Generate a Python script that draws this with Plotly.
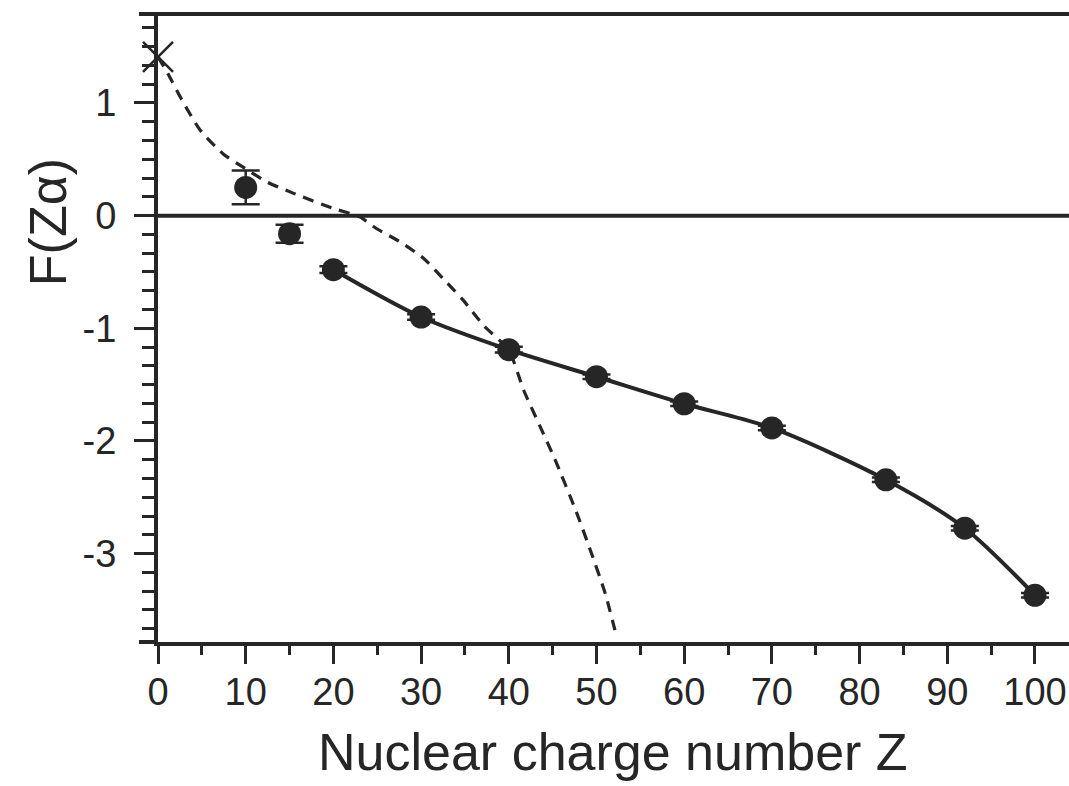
import plotly.graph_objects as go

# Measured points with error bars
z_pts = [10, 15, 20, 30, 40, 50, 60, 70, 83, 92, 100]
f_pts = [0.25, -0.16, -0.48, -0.90, -1.19, -1.43, -1.67, -1.885, -2.345, -2.775, -3.37]
f_err = [0.15, 0.08, 0.03, 0.025, 0.025, 0.02, 0.02, 0.02, 0.02, 0.02, 0.02]

# Solid line (fit through points Z>=20)
z_line = [20, 30, 40, 50, 60, 70, 83, 92, 100]
f_line = [-0.48, -0.90, -1.19, -1.43, -1.67, -1.885, -2.345, -2.775, -3.37]

# Dashed curve (expansion)
z_dash = [0, 1.2, 2.7, 4.8, 7.4, 9.7, 12.4, 15.4, 20, 23, 24.9, 27.6, 30.3, 32.5, 34.8, 37.1, 40, 41.7, 43.5, 45.3, 47.7, 49.3, 51, 52.3]
f_dash = [1.41, 1.25, 1.03, 0.76, 0.55, 0.43, 0.30, 0.20, 0.064, -0.01, -0.114, -0.233, -0.38, -0.558, -0.75, -0.972, -1.195, -1.55, -1.86, -2.17, -2.63, -2.97, -3.355, -3.74]

# Cross at Z=0
z_x = [0]
f_x = [1.41]

xtick_vals = [0, 10, 20, 30, 40, 50, 60, 70, 80, 90, 100]
xtick_text = ["0", "10", "20", "30", "40", "50", "60", "70", "80", "90", "100"]
ytick_vals = [1, 0, -1, -2, -3]
ytick_text = ["1", "0", "-1", "-2", "-3"]

C = "#262626"
FONT = "Liberation Sans, Arial, sans-serif"

fig = go.Figure()

fig.add_trace(go.Scatter(x=z_dash, y=f_dash, mode="lines",
                         line=dict(color=C, width=3.2, dash="11px,8px",
                                   shape="spline", smoothing=0.6),
                         cliponaxis=False, showlegend=False))
fig.add_trace(go.Scatter(x=z_line, y=f_line, mode="lines",
                         line=dict(color=C, width=4, shape="spline", smoothing=0.8),
                         showlegend=False))
fig.add_trace(go.Scatter(x=z_pts, y=f_pts, mode="markers",
                         marker=dict(symbol="circle", size=23, color=C),
                         error_y=dict(type="data", array=f_err, visible=True,
                                      color=C, thickness=2.5, width=14),
                         cliponaxis=False, showlegend=False))
fig.add_trace(go.Scatter(x=z_x, y=f_x, mode="markers",
                         marker=dict(symbol="x-thin-open", size=30, color=C,
                                     line=dict(color=C, width=2.5)),
                         cliponaxis=False, showlegend=False))

PW = 1069 - 158
ext = 19 / PW

fig.update_layout(
    width=1069, height=786,
    margin=dict(l=158, r=0, t=14, b=144),
    paper_bgcolor="white", plot_bgcolor="white",
    font=dict(family=FONT, color=C, size=38),
    xaxis=dict(range=[0, 103.88], showgrid=False, zeroline=False,
               showline=True, linecolor=C, linewidth=4,
               tickmode="array", tickvals=xtick_vals, ticktext=xtick_text,
               ticks="outside", ticklen=18, tickwidth=3, tickcolor=C,
               ticklabelstandoff=-5,
               minor=dict(dtick=5, tick0=0, ticks="outside", ticklen=9,
                          tickwidth=3, tickcolor=C, showgrid=False),
               tickfont=dict(size=38, family=FONT, color=C)),
    yaxis=dict(range=[-3.785, 1.79], showgrid=False, zeroline=False,
               showline=True, linecolor=C, linewidth=4,
               tickmode="array", tickvals=ytick_vals, ticktext=ytick_text,
               ticks="outside", ticklen=20, tickwidth=3, tickcolor=C,
               ticklabelstandoff=10,
               minor=dict(dtick=1/6, tick0=0, ticks="outside", ticklen=12,
                          tickwidth=3, tickcolor=C, showgrid=False),
               tickfont=dict(size=38, family=FONT, color=C)),
    shapes=[
        dict(type="line", xref="paper", yref="paper", x0=-ext, x1=1, y0=1, y1=1,
             line=dict(color=C, width=4)),
        dict(type="line", xref="paper", yref="paper", x0=-ext, x1=0, y0=0, y1=0,
             line=dict(color=C, width=4)),
        dict(type="line", xref="paper", yref="y", x0=0, x1=1, y0=0, y1=0,
             line=dict(color=C, width=4)),
    ],
    annotations=[
        dict(text="Nuclear charge number Z", xref="paper", yref="paper",
             x=(613 - 158) / PW, y=-0.175, xanchor="center", yanchor="middle",
             showarrow=False,
             font=dict(size=52, family=FONT, color=C)),
        dict(text="F(Zα)", xref="paper", yref="y",
             x=(48 - 158) / PW, y=-0.058, xanchor="center", yanchor="middle",
             textangle=-90, showarrow=False,
             font=dict(size=52, family=FONT, color=C)),
    ],
)

fig.write_html("out.html", config={"displayModeBar": False},
               post_script="document.body.style.margin='0';document.body.style.overflow='hidden';")
